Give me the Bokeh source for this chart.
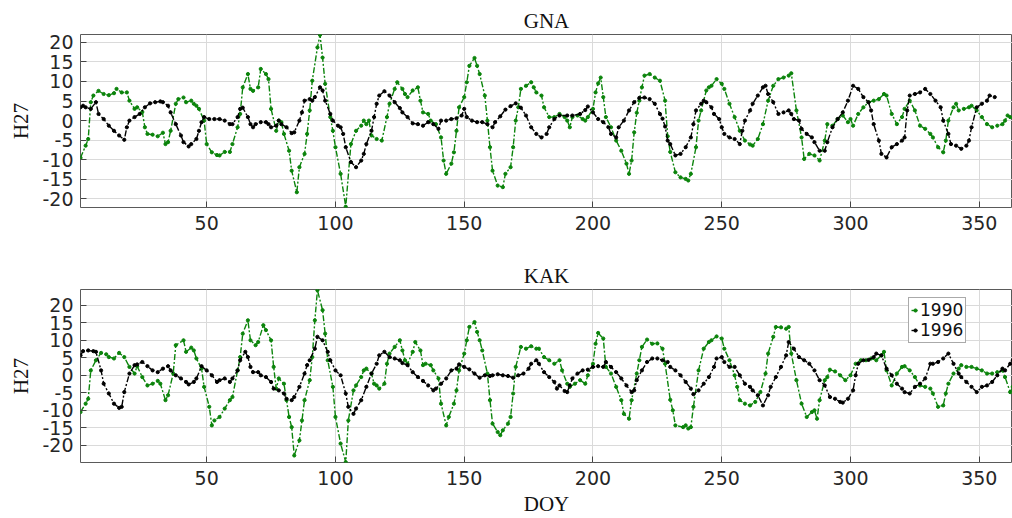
from bokeh.plotting import figure
from bokeh.layouts import column
from bokeh.models import Range1d, FixedTicker, Legend, LegendItem
from bokeh.embed import file_html
from bokeh.resources import INLINE

# ---------------- data (DOY, H27) ----------------
GNA_1990 = [(1,-9.5),(3,-6.4),(4,-4.7),(5,4.7),(6,6.4),(8,7.6),(10,6.8),(12,6.5),(14,7.0),(15,8.1),(17,7.2),(19,7.2),(20,5.1),(22,3.0),(23,3.4),(25,2.2),(26,-1.7),(27,-3.4),(29,-3.6),(31,-4.0),(33,-3.1),(34,-6.0),(35,-5.5),(36,-2.6),(38,4.3),(39,5.5),(41,5.9),(42,4.7),(44,5.1),(45,4.3),(46,3.8),(47,3.0),(49,0.0),(50,-6.0),(52,-8.1),(54,-8.8),(55,-8.9),(57,-8.0),(59,-8.0),(60,-6.0),(62,-1.7),(63,1.7),(64,8.5),(66,11.9),(67,8.1),(68,7.6),(70,8.5),(71,13.2),(73,11.9),(74,10.6),(75,3.0),(77,-2.6),(78,0.0),(79,-0.4),(80,-3.4),(82,-7.7),(83,-12.8),(85,-18.3),(86,-11.9),(88,-8.5),(89,-3.4),(90,2.6),(91,10.2),(93,18.7),(94,21.9),(95,16.1),(96,9.4),(98,0.9),(99,-2.6),(100,-6.8),(102,-13.6),(104,-22.0),(106,-6.0),(108,-2.6),(110,-1.3),(111,0.0),(112,-0.9),(113,0.0),(114,-3.8),(116,-4.7),(118,-5.1),(120,0.9),(121,4.3),(123,8.1),(124,9.8),(126,8.1),(127,6.8),(128,6.0),(130,7.7),(132,8.5),(133,5.1),(134,2.1),(136,1.7),(137,0.0),(139,-0.9),(141,-4.3),(142,-10.2),(143,-13.6),(145,-11.0),(146,-8.1),(147,-2.6),(148,3.4),(150,6.0),(151,9.8),(152,14.0),(154,16.0),(155,14.0),(156,11.9),(158,6.4),(159,0.0),(160,-6.8),(161,-12.8),(163,-16.6),(165,-17.0),(166,-13.6),(168,-11.9),(169,-6.8),(170,0.0),(171,3.4),(172,8.1),(174,8.9),(176,9.8),(177,8.5),(178,7.2),(180,6.4),(181,3.4),(183,0.9),(185,0.9),(187,1.7),(189,0.9),(190,0.0),(191,-1.7),(192,0.9),(194,1.3),(196,0.4),(197,0.0),(198,0.9),(200,3.0),(201,7.2),(202,9.5),(203,11.0),(204,6.0),(205,0.9),(207,-1.7),(209,-5.1),(211,-7.7),(213,-11.0),(214,-13.6),(215,-10.2),(216,-3.0),(217,2.0),(218,5.1),(219,8.5),(220,11.5),(222,11.9),(224,11.0),(226,10.2),(228,5.1),(229,-4.0),(230,-8.0),(232,-13.2),(234,-14.5),(236,-14.9),(237,-15.3),(238,-13.6),(240,-6.8),(241,0.0),(242,2.6),(244,7.7),(245,8.5),(246,8.9),(248,10.6),(250,9.4),(251,8.1),(253,4.3),(255,0.9),(257,-2.6),(259,-5.1),(261,-6.1),(262,-6.4),(264,-4.7),(266,-0.9),(268,5.1),(270,8.9),(272,10.6),(274,11.0),(276,11.5),(277,12.1),(279,2.6),(281,-4.3),(282,-9.8),(284,-8.5),(286,-8.9),(288,-10.2),(290,-5.1),(291,-0.9),(293,-1.3),(295,0.4),(297,1.3),(299,-0.4),(300,0.4),(301,-1.3),(303,1.7),(305,3.4),(307,4.7),(309,5.1),(311,5.5),(313,6.8),(314,6.4),(316,1.7),(318,-0.9),(320,0.9),(321,3.0),(323,5.1),(325,2.6),(327,-1.3),(329,-2.1),(331,-3.4),(332,-4.3),(334,-6.8),(336,-8.1),(337,-5.1),(338,0.0),(340,3.4),(341,4.3),(342,2.6),(344,3.0),(346,3.4),(347,3.8),(349,2.6),(351,0.9),(353,-0.9),(355,-1.7),(357,-1.3),(359,-0.9),(360,0.0),(361,1.3),(362,0.9),(364,0.2),(365,-0.3)]

GNA_1996 = [(1,3.4),(2,3.8),(3,3.4),(5,3.0),(7,4.7),(8,1.7),(10,0.4),(12,-1.3),(14,-2.6),(16,-3.8),(18,-4.9),(19,-1.7),(20,0.0),(22,0.9),(24,1.7),(26,3.4),(28,4.4),(30,4.7),(32,4.9),(33,4.7),(35,3.8),(36,2.1),(38,-0.9),(40,-3.8),(41,-5.5),(43,-6.6),(44,-6.0),(46,-4.7),(47,-2.6),(48,-0.4),(49,0.9),(51,0.4),(53,0.4),(55,0.4),(57,0.0),(59,-0.9),(60,-0.9),(62,0.9),(63,3.0),(64,3.3),(66,0.9),(67,-0.9),(68,-1.7),(69,-0.9),(71,-0.4),(73,-0.4),(74,-0.9),(75,-1.7),(77,-1.3),(78,0.0),(79,-0.9),(81,-1.7),(83,-3.2),(84,-3.0),(86,0.0),(87,2.1),(88,5.1),(90,5.5),(91,5.1),(92,6.0),(94,8.5),(95,7.7),(96,5.1),(98,1.7),(99,0.0),(101,-1.3),(102,-1.7),(103,-3.4),(104,-6.8),(106,-10.6),(108,-11.9),(110,-10.2),(111,-8.5),(112,-6.0),(114,-2.6),(115,0.9),(116,4.3),(117,6.4),(119,7.5),(121,6.4),(123,4.7),(125,3.2),(126,2.1),(128,0.9),(130,-0.7),(132,-0.9),(134,-1.3),(136,-0.4),(138,-0.9),(140,-2.1),(141,0.0),(143,0.0),(145,0.4),(147,0.6),(149,1.3),(150,3.0),(151,0.9),(153,0.0),(155,-0.4),(157,-0.4),(159,-0.9),(161,-1.7),(162,-0.4),(164,1.1),(166,2.8),(168,3.7),(170,4.4),(172,3.3),(174,1.3),(176,-1.7),(178,-3.4),(180,-4.3),(182,-3.4),(183,-1.7),(185,0.4),(187,1.3),(190,1.3),(192,1.3),(195,1.7),(197,2.7),(198,3.6),(200,2.1),(202,0.4),(204,-0.4),(206,-1.7),(207,-3.4),(209,-4.3),(210,-1.7),(212,0.0),(214,2.6),(216,4.7),(218,5.8),(220,5.9),(222,5.5),(224,4.3),(226,1.7),(227,0.5),(228,-1.5),(229,-5.1),(230,-6.0),(232,-8.9),(234,-8.5),(236,-6.8),(238,-4.3),(239,-0.9),(240,2.6),(242,4.3),(243,5.1),(244,4.7),(246,3.4),(247,1.7),(249,0.4),(250,-1.7),(251,-3.4),(253,-4.3),(255,-4.7),(257,-6.0),(258,-2.6),(259,0.0),(261,2.6),(262,4.3),(264,6.4),(266,8.5),(267,8.9),(268,6.8),(270,4.7),(272,1.7),(274,2.1),(276,2.6),(277,1.7),(278,0.4),(280,0.0),(281,-2.1),(283,-3.4),(285,-4.3),(286,-5.5),(288,-7.7),(290,-7.7),(291,-5.5),(293,-1.7),(295,0.4),(297,2.1),(299,5.1),(301,8.9),(303,8.1),(305,6.0),(307,4.7),(308,2.6),(309,-0.9),(311,-5.1),(312,-8.5),(314,-9.4),(316,-6.8),(318,-6.0),(320,-5.1),(321,-4.3),(322,2.6),(323,6.4),(325,6.8),(327,7.2),(329,8.1),(331,6.8),(333,5.1),(335,3.4),(336,0.0),(338,-3.4),(339,-6.0),(341,-6.4),(343,-7.2),(345,-6.4),(346,-5.1),(347,-1.7),(349,3.4),(351,4.3),(353,5.1),(354,6.4),(356,6.0)]

KAK_1990 = [(1,-10.5),(3,-8.1),(4,-6.7),(5,1.4),(7,4.3),(9,6.4),(11,6.0),(12,5.2),(14,4.8),(16,6.4),(18,5.2),(20,2.4),(22,0.5),(23,2.6),(25,-0.5),(27,-2.9),(29,-2.4),(31,-1.6),(32,-2.4),(34,-7.1),(35,-5.7),(37,0.5),(38,8.6),(41,10.0),(42,6.7),(44,7.9),(45,7.1),(46,4.8),(48,1.9),(49,-3.3),(51,-9.0),(52,-14.3),(53,-12.9),(55,-11.9),(57,-9.5),(59,-7.1),(60,-6.2),(62,1.4),(63,5.2),(64,11.9),(66,15.7),(67,10.0),(69,8.6),(70,9.5),(72,14.3),(73,12.9),(75,10.0),(76,2.4),(77,-3.8),(78,-0.9),(80,-2.4),(81,-7.1),(82,-11.9),(83,-14.8),(84,-22.9),(86,-18.6),(87,-12.9),(88,-7.1),(90,-1.4),(91,5.2),(92,15.7),(93,24.3),(95,18.6),(96,11.9),(97,4.3),(99,-3.3),(100,-11.9),(102,-19.5),(104,-24.8),(105,-12.9),(107,-4.3),(108,-2.9),(110,-0.5),(111,1.4),(112,1.9),(114,0.5),(115,-2.4),(116,-2.9),(117,-3.8),(119,-2.4),(120,3.3),(121,6.2),(123,8.1),(125,10.0),(126,7.1),(127,4.3),(128,3.3),(130,6.7),(131,9.5),(133,7.1),(134,2.9),(135,3.3),(137,2.9),(138,1.4),(140,-0.9),(141,-8.1),(143,-14.3),(144,-11.9),(146,-8.1),(147,-4.3),(148,1.4),(150,6.2),(151,10.0),(152,13.8),(154,15.2),(155,12.4),(156,10.0),(157,7.1),(159,0.5),(160,-7.1),(161,-13.8),(163,-16.2),(164,-17.1),(165,-15.7),(167,-13.8),(168,-11.9),(169,-5.2),(170,2.4),(172,8.1),(174,7.6),(176,8.3),(178,7.6),(179,7.6),(181,5.2),(183,4.3),(185,3.3),(187,4.3),(188,1.4),(190,-2.4),(191,-3.3),(193,-2.4),(195,-1.4),(197,-2.4),(198,0.0),(200,3.3),(201,9.0),(202,12.1),(204,10.5),(205,2.4),(207,0.5),(209,-3.3),(211,-7.1),(212,-11.0),(214,-12.4),(215,-7.1),(217,0.5),(218,4.3),(219,8.1),(221,10.2),(223,9.0),(225,9.1),(227,7.6),(228,3.3),(230,-7.0),(231,-10.0),(232,-14.3),(235,-14.8),(236,-14.3),(237,-15.2),(238,-14.8),(239,-9.0),(241,1.4),(243,7.6),(245,9.5),(246,10.0),(248,11.1),(250,10.5),(251,7.6),(253,4.3),(255,0.0),(256,-3.3),(257,-7.1),(259,-8.1),(261,-8.6),(263,-7.6),(265,-4.8),(267,0.5),(268,6.2),(270,11.0),(271,13.8),(273,13.7),(275,13.3),(276,13.8),(277,6.2),(279,-1.4),(281,-8.1),(283,-11.9),(285,-10.5),(286,-10.0),(287,-12.4),(288,-7.1),(290,-1.4),(291,-0.5),(292,1.6),(294,1.1),(296,0.0),(298,-1.4),(300,0.0),(302,3.3),(304,4.3),(306,4.3),(308,4.8),(310,4.3),(312,5.7),(313,6.7),(314,1.4),(316,-2.9),(318,0.5),(320,2.4),(321,2.6),(323,1.4),(325,-0.5),(327,-2.9),(329,-3.3),(331,-3.8),(332,-5.2),(334,-9.0),(336,-8.6),(337,-5.2),(338,-2.4),(340,0.5),(342,1.9),(343,2.9),(345,2.4),(347,2.4),(349,1.9),(351,1.4),(353,0.5),(355,0.5),(357,0.9),(359,1.4),(360,-0.5),(362,-4.8),(363,-3.3),(365,-2.5)]

KAK_1996 = [(1,5.7),(2,6.9),(4,7.1),(6,6.9),(7,6.7),(9,1.4),(10,-2.4),(12,-5.2),(14,-8.1),(16,-9.3),(17,-9.0),(18,-4.8),(20,0.5),(22,2.9),(23,3.1),(25,3.8),(27,2.6),(29,1.4),(31,0.9),(33,1.9),(35,2.6),(36,1.4),(38,0.0),(40,-0.9),(42,-1.9),(43,-2.6),(45,-1.9),(46,-0.9),(48,2.6),(50,1.4),(52,0.0),(54,-1.9),(55,-1.4),(57,-0.9),(59,-1.9),(60,-0.9),(62,1.4),(63,4.3),(65,6.7),(66,5.2),(67,2.4),(68,0.9),(70,0.9),(71,0.0),(73,-0.5),(75,-1.9),(76,-3.8),(78,-4.3),(80,-5.2),(81,-6.7),(83,-7.1),(84,-6.2),(86,-3.3),(88,0.5),(89,2.9),(90,4.3),(92,7.6),(93,11.0),(95,10.0),(97,6.7),(98,4.3),(100,1.4),(102,0.0),(104,-5.2),(105,-9.0),(107,-11.0),(108,-9.5),(110,-7.1),(112,-3.3),(114,0.5),(116,3.3),(117,5.7),(119,6.7),(121,5.2),(123,4.8),(125,4.3),(126,3.5),(128,2.9),(130,0.9),(132,-0.5),(134,-1.6),(136,-2.9),(138,-4.3),(139,-3.8),(141,-2.4),(143,-0.9),(145,1.4),(147,1.9),(148,3.1),(150,2.4),(152,1.7),(154,0.5),(156,-0.7),(158,0.0),(160,-0.2),(161,0.0),(163,0.3),(165,0.0),(167,-0.2),(169,-0.7),(171,0.0),(173,0.5),(175,1.9),(176,3.3),(178,4.3),(179,3.3),(181,0.9),(183,-0.5),(185,-1.9),(186,-3.8),(187,-2.9),(189,-4.5),(190,-4.8),(191,-2.9),(192,-0.9),(194,0.5),(196,1.4),(198,1.6),(200,2.4),(202,2.6),(204,2.4),(205,3.8),(207,2.4),(209,0.9),(211,-0.9),(213,-2.9),(215,-4.8),(216,-4.3),(217,-1.4),(219,1.4),(221,3.8),(223,4.8),(225,4.8),(227,4.3),(229,3.8),(230,2.4),(232,1.4),(234,0.0),(236,-1.9),(238,-3.8),(239,-5.4),(241,-4.3),(243,-2.4),(245,-0.5),(247,2.4),(248,4.8),(250,5.2),(251,3.8),(253,2.4),(255,2.4),(257,0.0),(259,-2.4),(261,-3.3),(262,-4.3),(264,-5.7),(266,-8.6),(268,-5.7),(269,-3.3),(271,-0.5),(273,2.4),(275,5.7),(276,9.5),(278,7.6),(280,5.2),(282,4.3),(284,3.3),(286,1.4),(288,-1.4),(290,-2.9),(292,-6.2),(294,-6.7),(296,-7.6),(297,-7.8),(299,-6.7),(301,-4.3),(302,0.0),(303,3.3),(305,4.3),(307,4.4),(309,5.2),(310,6.2),(312,5.7),(314,1.9),(316,0.0),(318,-2.4),(320,-3.8),(321,-4.8),(323,-5.2),(325,-3.3),(327,-2.4),(329,-0.9),(331,3.3),(332,3.3),(334,3.8),(336,4.8),(338,6.2),(340,3.3),(342,0.5),(343,-0.5),(345,-1.9),(347,-3.3),(349,-4.8),(351,-3.3),(353,-2.9),(355,-1.9),(357,0.0),(359,1.9),(360,1.4),(362,3.3),(363,4.3)]

STATIONS = ["GNA", "KAK"]
YEARS = ["1990", "1996"]
X_TICKS = [50, 100, 150, 200, 250, 300, 350]
Y_TICKS = [-20, -15, -10, -5, 0, 5, 10, 15, 20]
Y_TICK_LABELS = {t: str(t) for t in Y_TICKS}   # plain hyphen-minus, as in the reference

GREEN = "#0b840b"
BLACK = "#000000"
SERIF = "Liberation Serif"
SANS = "DejaVu Sans"
TXT = "#262626"


def make_panel(title, series, y_lo, y_hi, height, top, bottom, xlabel=None):
    p = figure(width=1012, height=height, output_backend="svg", toolbar_location=None,
               x_range=Range1d(1, 362.9), y_range=Range1d(y_lo, y_hi),
               min_border_left=80, min_border_right=0,
               min_border_top=top, min_border_bottom=bottom)
    p.title.text = title
    p.title.align = "center"
    p.title.text_font = SERIF
    p.title.text_font_style = "normal"
    p.title.text_font_size = "21px"
    p.title.text_color = "#111111"
    p.title.standoff = 4
    p.outline_line_color = "#5a5a5a"
    p.outline_line_width = 1
    for ax in (p.xaxis[0], p.yaxis[0]):
        ax.axis_line_color = None
        ax.major_tick_in = 6
        ax.major_tick_out = 0
        ax.major_tick_line_color = "#444444"
        ax.minor_tick_line_color = None
        ax.major_label_text_font = SANS
        ax.major_label_text_font_size = "19px"
        ax.major_label_text_color = TXT
        ax.axis_label_text_font = SERIF
        ax.axis_label_text_font_style = "normal"
        ax.axis_label_text_font_size = "21px"
        ax.axis_label_text_color = "#111111"
    p.xaxis.ticker = FixedTicker(ticks=X_TICKS)
    p.yaxis.ticker = FixedTicker(ticks=Y_TICKS)
    p.yaxis.major_label_overrides = Y_TICK_LABELS
    p.xaxis.major_label_standoff = 8
    p.yaxis.major_label_standoff = 7
    p.yaxis.axis_label = "H27"
    p.yaxis.axis_label_standoff = 6
    if xlabel:
        p.xaxis.axis_label = xlabel
        p.xaxis.axis_label_standoff = 4
    p.xgrid.ticker = FixedTicker(ticks=X_TICKS)
    p.ygrid.ticker = FixedTicker(ticks=Y_TICKS)
    p.grid.grid_line_color = "#dadada"
    p.grid.grid_line_width = 1

    items = []
    for label, data, col in series:
        xs = [d for d, _ in data]
        ys = [v for _, v in data]
        ln = p.line(xs, ys, line_color=col, line_width=1.4, line_dash="6 2 2 2")
        sc = p.scatter(xs, ys, size=3.2, fill_color=col, line_color=col)
        items.append(LegendItem(label=label, renderers=[ln, sc]))
    return p, items


p1, _ = make_panel(STATIONS[0], [(YEARS[0], GNA_1990, GREEN), (YEARS[1], GNA_1996, BLACK)],
                   -22.2, 22.0, 250, 34, 43)
p2, items = make_panel(STATIONS[1], [(YEARS[0], KAK_1990, GREEN), (YEARS[1], KAK_1996, BLACK)],
                       -24.9, 24.5, 268, 39, 56, xlabel="DOY")

legend = Legend(items=items, location=(828, 119))
legend.border_line_color = "#555555"
legend.border_line_width = 1
legend.background_fill_color = "white"
legend.background_fill_alpha = 1.0
legend.label_text_font = SANS
legend.label_text_font_size = "17px"
legend.label_text_color = "#111111"
legend.glyph_width = 8
legend.glyph_height = 18
legend.label_height = 20
legend.label_standoff = 1
legend.padding = 2
legend.spacing = 0
legend.margin = 0
p2.add_layout(legend, "center")

layout = column(p1, p2, spacing=0)
open("out.html", "w").write(file_html(layout, INLINE))
